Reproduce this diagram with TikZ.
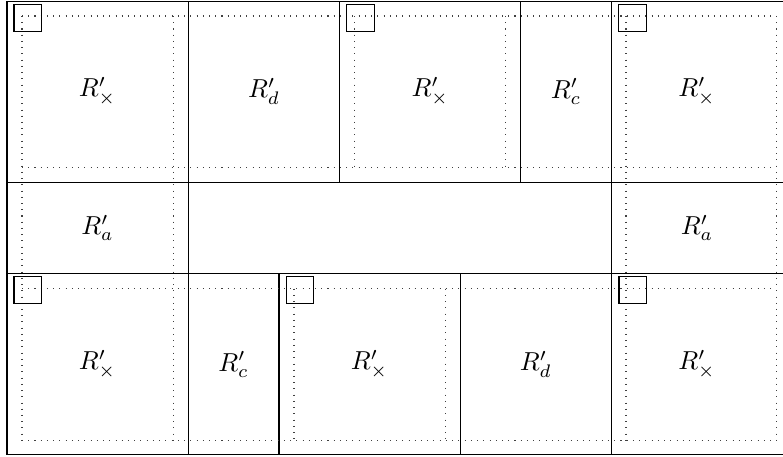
\documentclass[tikz,border=0pt]{standalone}
\begin{document}
\begin{tikzpicture}[x=0.385pt,y=-0.385pt,
  solidline/.style={line width=0.4pt,black},
  dotline/.style={line width=0.4pt,dotted,black!75},
  corner/.style={line width=0.4pt,black},
  lab/.style={inner sep=0pt,font=\fontsize{10}{12}\selectfont}]
\useasboundingbox (0,0) rectangle (783,456);
% outer frame
\draw[solidline] (7,1.3) rectangle (784,454.3);
% horizontal lines
\draw[solidline] (7,182.5) -- (784,182.5);
\draw[solidline] (7,273.5) -- (784,273.5);
% vertical lines
\draw[solidline] (188.3,1.3) -- (188.3,454.3);
\draw[solidline] (611.5,1.3) -- (611.5,454.3);
\draw[solidline] (339.5,1.3) -- (339.5,182.5);
\draw[solidline] (520.7,1.3) -- (520.7,182.5);
\draw[solidline] (279,273.5) -- (279,454.3);
\draw[solidline] (460.3,273.5) -- (460.3,454.3);
% dotted horizontals
\draw[dotline] (22,16) -- (776,16);
\draw[dotline] (22,167.3) -- (776,167.3);
\draw[dotline] (22,288.7) -- (776,288.7);
\draw[dotline] (22,440.7) -- (776,440.7);
% dotted verticals
\draw[dotline] (22,16) -- (22,440.7);
\draw[dotline] (173.3,16) -- (173.3,440.7);
\draw[dotline] (626,16) -- (626,440.7);
\draw[dotline] (776,16) -- (776,440.7);
\draw[dotline] (354.3,16) -- (354.3,167.3);
\draw[dotline] (505.7,16) -- (505.7,167.3);
\draw[dotline] (294,288.7) -- (294,440.7);
\draw[dotline] (445.3,288.7) -- (445.3,440.7);
% small corner squares
\draw[corner] (14,4.3) rectangle (41.7,31.7);
\draw[corner] (346.7,4.3) rectangle (374.3,31.7);
\draw[corner] (618.7,4.3) rectangle (646.7,31.7);
\draw[corner] (14,276.3) rectangle (41.7,303.7);
\draw[corner] (286.3,276.3) rectangle (313.7,303.7);
\draw[corner] (619,276.3) rectangle (646.7,303.7);
% labels
\node[lab] (x1) at (97.5,91.5) {$R'_\times$};
\node[lab] (d1) at (264,91.5) {$R'_d$};
\node[lab] (x2) at (430.3,91.5) {$R'_\times$};
\node[lab] (c1) at (566,91.5) {$R'_c$};
\node[lab] (x3) at (697,91.5) {$R'_\times$};
\node[lab] (a1) at (97.5,228) {$R'_a$};
\node[lab] (a2) at (697,228) {$R'_a$};
\node[lab] (x4) at (97.5,364.5) {$R'_\times$};
\node[lab] (c2) at (233.6,364.5) {$R'_c$};
\node[lab] (x5) at (369.6,364.5) {$R'_\times$};
\node[lab] (d2) at (535.8,364.5) {$R'_d$};
\node[lab] (x6) at (697,364.5) {$R'_\times$};
\end{tikzpicture}
\end{document}
